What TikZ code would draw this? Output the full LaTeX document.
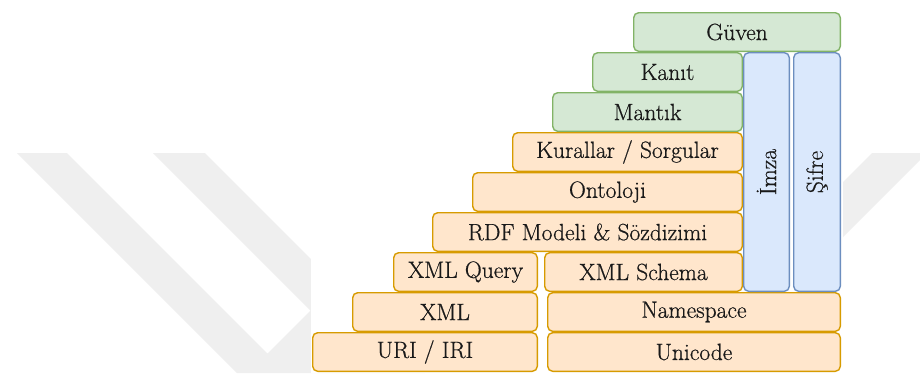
\documentclass[tikz,border=0pt]{standalone}
\usepackage{fontspec}
\newfontfamily\lmheavy{Latin Modern Roman}[FakeBold=0.6]
\definecolor{wm}{RGB}{239,239,239}
\definecolor{gfill}{HTML}{D5E8D4}
\definecolor{gline}{HTML}{82B366}
\definecolor{ofill}{HTML}{FFE6CC}
\definecolor{oline}{HTML}{D79B00}
\definecolor{bfill}{HTML}{DAE8FC}
\definecolor{bline}{HTML}{6C8EBF}
\tikzset{
  layerbox/.style={rounded corners=5pt, line width=1.4pt, inner sep=0pt, outer sep=0pt,
    font=\lmheavy\fontsize{23.5}{28}\selectfont, text=black!90},
  greenbox/.style={layerbox, fill=gfill, draw=gline},
  orangebox/.style={layerbox, fill=ofill, draw=oline},
  bluebox/.style={layerbox, fill=bfill, draw=bline},
}
\newcommand\layer[7]{\node[#2, minimum width={#5-#3-1.4}, minimum height={#6-#4-1.4}] (#1) at ({(#3+#5)/2},{(#4+#6)/2}) {#7};}
\begin{document}
\begin{tikzpicture}[x=1pt,y=-1pt]
\useasboundingbox (0,0) rectangle (920,373);
\fill[white] (0,0) rectangle (920,373);
% watermark
\fill[wm] (17,153) -- (67,153) -- (267.5,353.5) -- (310.5,310.5) -- (153,153) -- (205,153)
  -- (425,373) -- (237,373) -- cycle;
\fill[wm] (843,182) -- (872,153) -- (920,153) -- (920,160) -- (843,237) -- cycle;
\fill[white] (311,0) rectangle (843,373);
% layers
\layer{guven}{greenbox}{633}{12}{841}{52}{Güven}
\layer{kanit}{greenbox}{592}{52}{743}{92}{Kanıt}
\layer{mantik}{greenbox}{552}{92}{743}{132}{Mantık}
\layer{kurallar}{orangebox}{512}{132}{743}{172}{Kurallar / Sorgular}
\layer{ontoloji}{orangebox}{472}{172}{743}{212}{Ontoloji}
\layer{rdf}{orangebox}{432}{212}{743}{252}{RDF Modeli \& Sözdizimi}
\layer{xmlquery}{orangebox}{393}{252}{538}{292}{XML Query}
\layer{xmlschema}{orangebox}{544}{252}{743}{292}{XML Schema}
\layer{xml}{orangebox}{352}{292}{538}{332}{XML}
\layer{namespace}{orangebox}{547}{292}{841}{332}{Namespace}
\layer{uri}{orangebox}{312}{332}{538}{372}{URI / IRI}
\layer{unicode}{orangebox}{547}{332}{841}{372}{Unicode}
\layer{imza}{bluebox}{743}{52}{790}{292}{\rotatebox{90}{İmza}}
\layer{sifre}{bluebox}{793}{52}{841}{292}{\rotatebox{90}{Şifre}}
\end{tikzpicture}
\end{document}
